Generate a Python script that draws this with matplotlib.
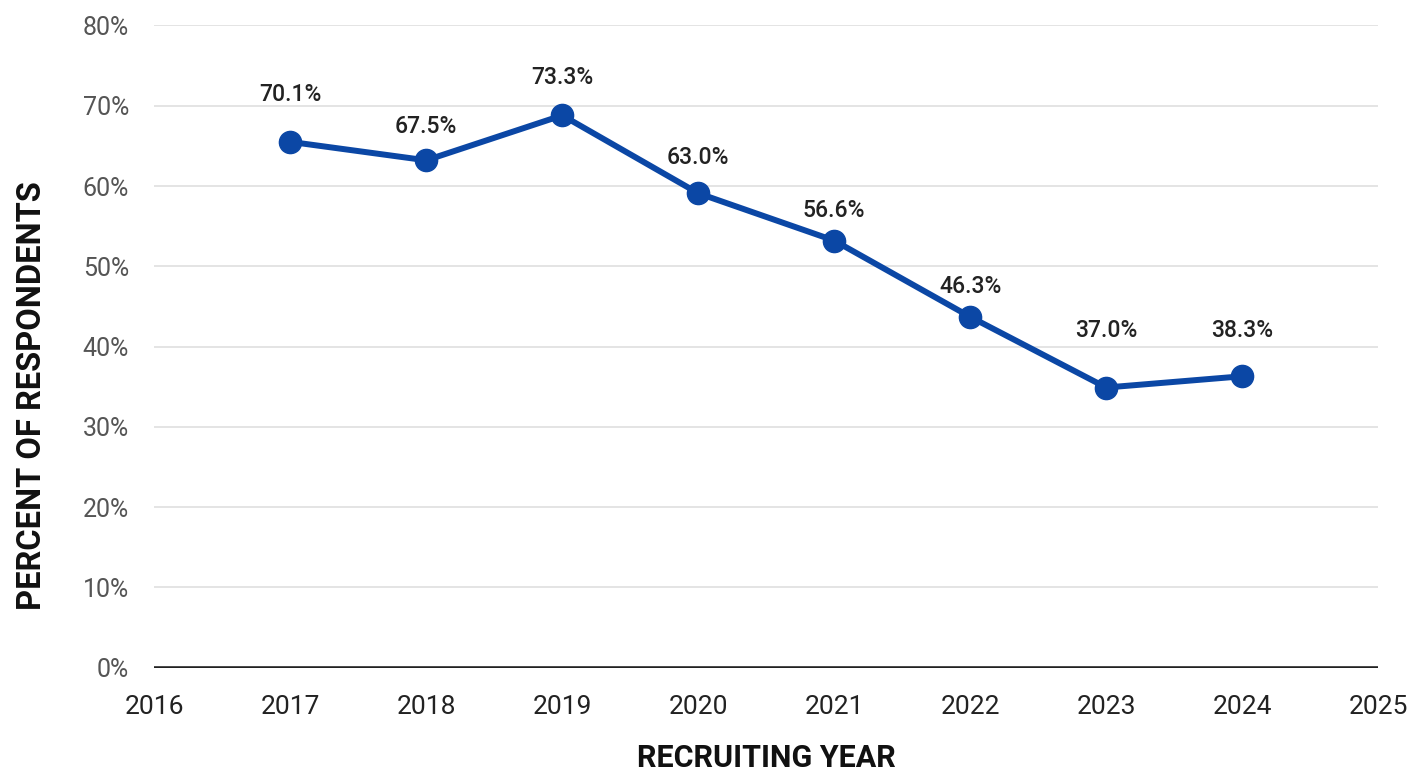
import matplotlib.pyplot as plt
import numpy as np

years = [2017, 2018, 2019, 2020, 2021, 2022, 2023, 2024]
values = [65.5, 63.2, 68.8, 59.1, 53.2, 43.7, 34.9, 36.3]
labels = ["70.1%", "67.5%", "73.3%", "63.0%", "56.6%", "46.3%", "37.0%", "38.3%"]
yticks = [0, 10, 20, 30, 40, 50, 60, 70, 80]
xticks = [2016, 2017, 2018, 2019, 2020, 2021, 2022, 2023, 2024, 2025]

# label offsets above each point (points)
label_off = [34, 24, 27, 26, 22, 22, 41, 33]

blue = "#0b47a5"
narrow = ["Liberation Sans Narrow", "Roboto", "DejaVu Sans"]

fig = plt.figure(figsize=(14.15, 7.71), dpi=100)
ax = fig.add_axes([0.109, 0.134, 0.865, 0.833])

for t in yticks[1:]:
    ax.axhline(t, color="#e2e2e2", lw=1.3, zorder=0)
ax.axhline(0, color="#222222", lw=2.6, zorder=1)

ax.plot(years, values, color=blue, lw=4.3, marker="o", markersize=16,
        zorder=3, solid_capstyle="round")

for x, v, s, off in zip(years, values, labels, label_off):
    ax.annotate(s, (x, v), xytext=(0, off), textcoords="offset points",
                ha="center", va="center", fontsize=16.5, color="#222222",
                fontweight="medium", family=["Roboto", "DejaVu Sans"])

ax.set_xlim(2016, 2025)
ax.set_ylim(0, 80)
ax.set_xticks(xticks)
ax.set_xticklabels([str(x) for x in xticks], fontsize=19, color="#222222",
                   family=["Roboto", "DejaVu Sans"])
ax.set_yticks(yticks)
ax.set_yticklabels([f"{t}%" for t in yticks], fontsize=18, color="#555555",
                   family=["Roboto", "DejaVu Sans"])
ax.tick_params(axis="x", length=0, pad=20)
ax.tick_params(axis="y", length=0, pad=18)

for sp in ax.spines.values():
    sp.set_visible(False)

ax.set_xlabel("RECRUITING YEAR", fontsize=22, fontweight="bold", color="#111111",
              family=narrow)
ax.xaxis.set_label_coords(0.5, -0.117)
ax.set_ylabel("PERCENT OF RESPONDENTS", fontsize=23.5, fontweight="bold",
              color="#111111", family=narrow)
ax.yaxis.set_label_coords(-0.087, 0.423)

fig.savefig("out.png", dpi=100, facecolor="white")
